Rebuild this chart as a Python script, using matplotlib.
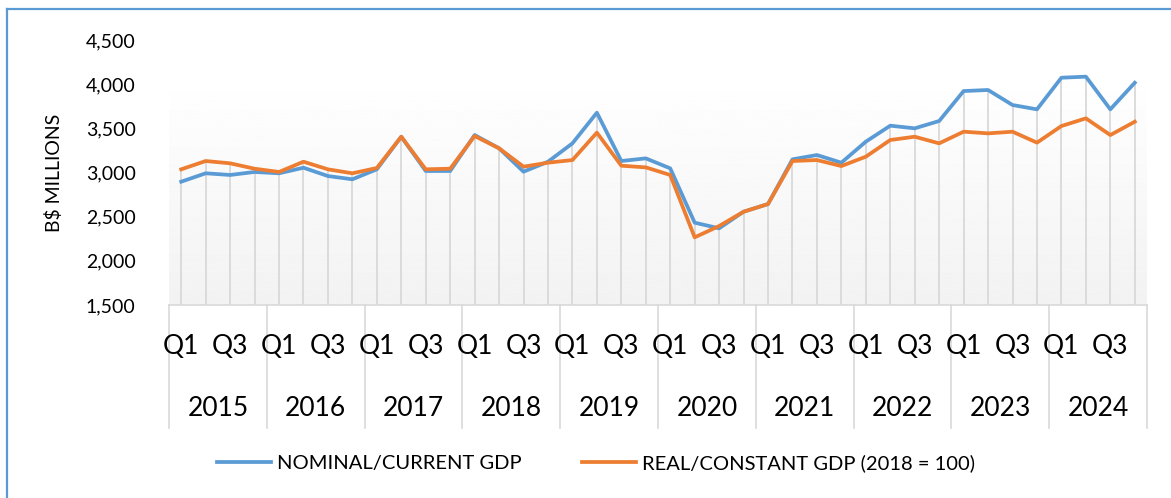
import numpy as np
import matplotlib
matplotlib.use("Agg")
from matplotlib import pyplot as plt
from matplotlib.lines import Line2D

plt.rcParams['font.family'] = ['Lato', 'DejaVu Sans']

years = ['2015', '2016', '2017', '2018', '2019', '2020', '2021', '2022', '2023', '2024']
quarters = ['Q1', 'Q2', 'Q3', 'Q4']

nominal = [2896, 2991, 2972, 3006, 2991, 3054, 2960, 2923, 3036, 3405,
           3017, 3017, 3424, 3274, 3009, 3122, 3330, 3677, 3130, 3160,
           3047, 2432, 2368, 2556, 2643, 3149, 3198, 3111, 3349, 3530,
           3500, 3583, 3922, 3934, 3764, 3715, 4073, 4085, 3715, 4016]
real = [3036, 3130, 3104, 3043, 3006, 3122, 3036, 2991, 3051, 3405,
        3036, 3043, 3413, 3274, 3066, 3111, 3141, 3451, 3077, 3058,
        2972, 2266, 2394, 2556, 2643, 3130, 3141, 3073, 3179, 3368,
        3405, 3330, 3462, 3443, 3462, 3338, 3526, 3613, 3424, 3575]

W, H = 1171, 498
fig = plt.figure(figsize=(W / 100, H / 100), dpi=100)
ax = fig.add_axes([169 / W, 1 - 305 / H, (1147 - 169) / W, (305 - 40) / H])

n = len(nominal)
x = np.arange(n)
ax.set_xlim(-0.5, n - 0.5)
ax.set_ylim(1500, 4500)

# gradient fill of plot area
grad = np.linspace(0.95, 1.0, 256).reshape(-1, 1)
ax.imshow(grad, cmap='gray', vmin=0, vmax=1, aspect='auto', origin='lower',
          extent=[-0.5, n - 0.5, 1500, 4115], zorder=0)

# drop lines
top = np.maximum(nominal, real)
ax.vlines(x, 1500, top, color='#d9d9d9', lw=1.3, zorder=1)

ax.plot(x, nominal, color='#5B9BD5', lw=2.7, label='NOMINAL/CURRENT GDP', zorder=3)
ax.plot(x, real, color='#ED7D31', lw=2.7, label='REAL/CONSTANT GDP (2018 = 100)', zorder=4)

for s in ['top', 'right', 'left']:
    ax.spines[s].set_visible(False)
ax.spines['bottom'].set_color('#d9d9d9')
ax.spines['bottom'].set_linewidth(1.2)

ax.set_yticks(np.arange(1500, 4501, 500))
ax.set_yticklabels([f'{v:,}' for v in range(1500, 4501, 500)])
ax.tick_params(axis='y', length=0, pad=24, labelsize=14)
ax.set_xticks([])

# category table under the axis
trans = ax.get_xaxis_transform()
y_q = -(347 - 305) / 265
y_y = -(408 - 305) / 265
y_bot = -(428 - 305) / 265
for k in range(len(years) + 1):
    ax.plot([-0.5 + 4 * k] * 2, [0, y_bot], transform=trans, color='#d9d9d9',
            lw=1.2, clip_on=False)
for i in range(n):
    q = quarters[i % 4]
    if q in ('Q1', 'Q3'):
        ax.text(i, y_q, q, transform=trans, ha='center', va='center', fontsize=19)
for k, yr in enumerate(years):
    ax.text(4 * k + 1.5, y_y, yr, transform=trans, ha='center', va='center', fontsize=19)

fig.text(54 / W, 1 - 173 / H, 'B$ MILLIONS', rotation=90, ha='center', va='center',
         fontsize=14)

fig.legend(loc='center', bbox_to_anchor=(596 / W, 1 - 463 / H), ncol=2, frameon=False,
           fontsize=14.5, handlelength=2.7, handletextpad=0.3, columnspacing=3.0)

# chart border (left and top visible)
fig.add_artist(Line2D([7 / W, 7 / W], [0, 1 - 9 / H], color='#5B9BD5', lw=1.6))
fig.add_artist(Line2D([7 / W, 1], [1 - 9 / H, 1 - 9 / H], color='#5B9BD5', lw=1.6))

fig.savefig('out.png', dpi=100)
